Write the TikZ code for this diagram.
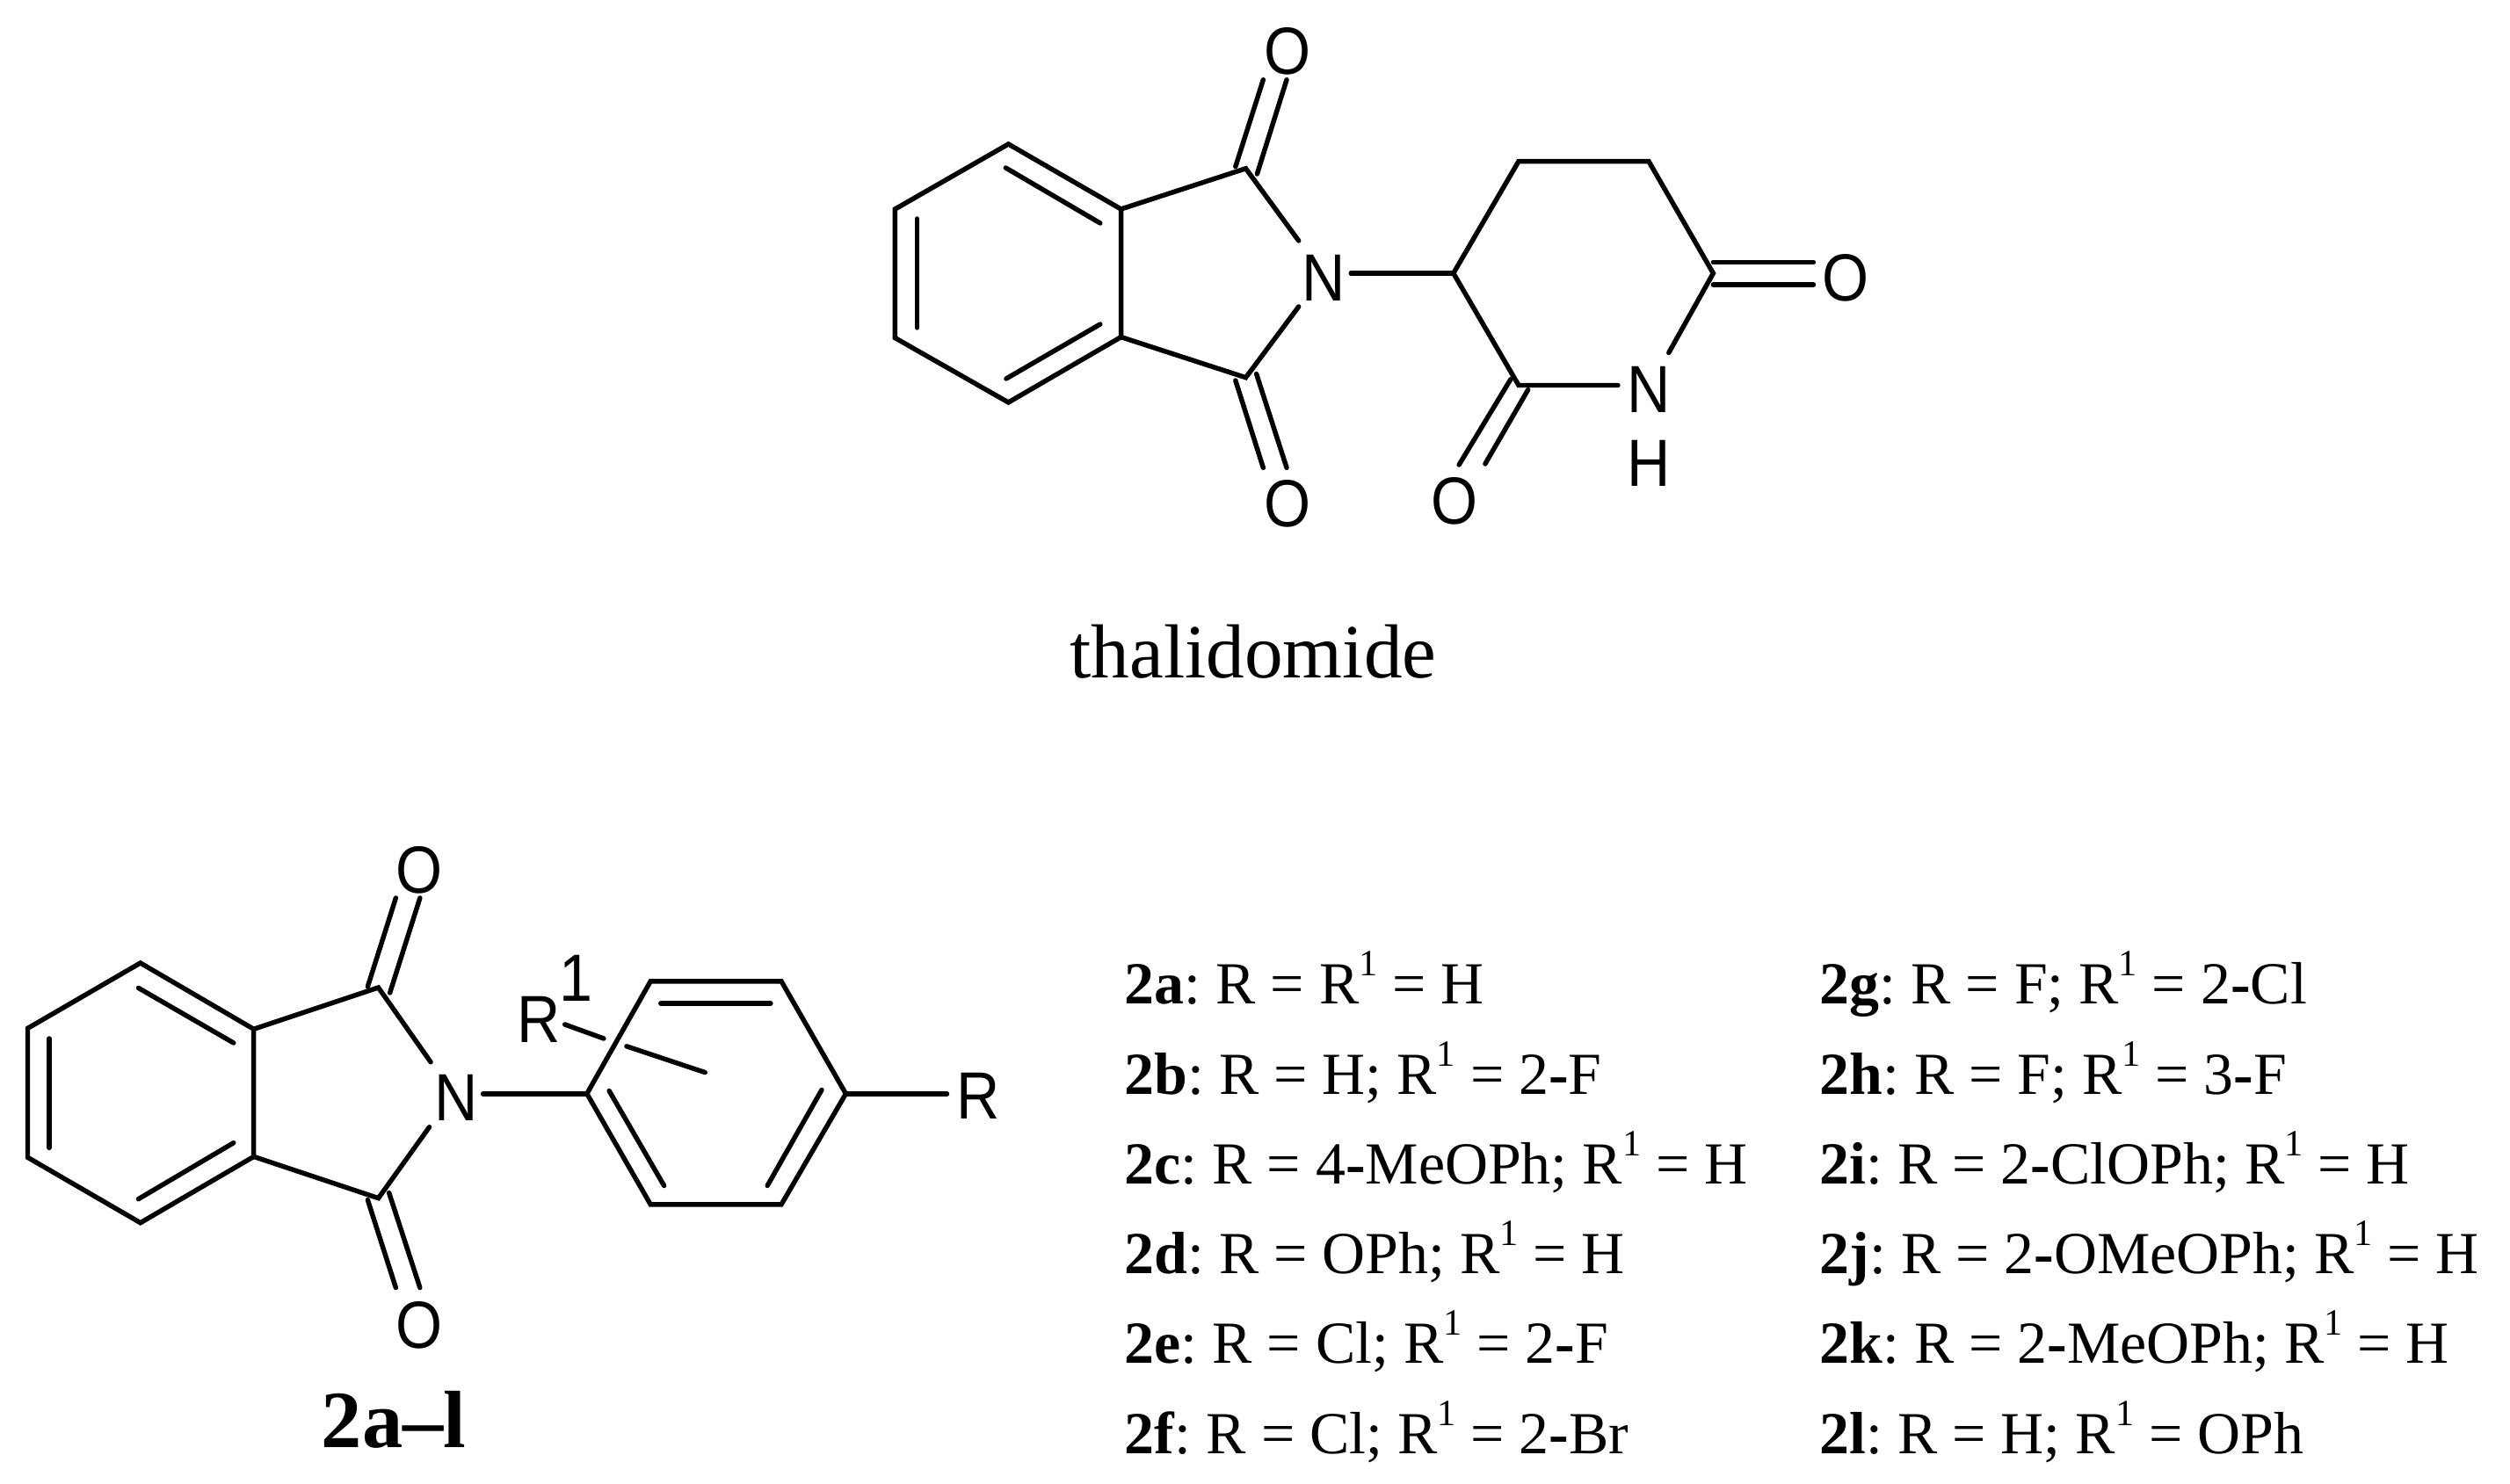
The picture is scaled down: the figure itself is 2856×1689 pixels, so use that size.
\documentclass[tikz,border=0pt]{standalone}
\usepackage{graphicx}
\usepackage{fontspec}
\setmainfont{Liberation Serif}
\newfontfamily\atomfont{Liberation Sans}
\newdimen\myunit
\myunit=0.2845pt
\newcommand{\supone}{\raisebox{32\myunit}{\fontsize{12pt}{12pt}\selectfont 1}}
\newcommand{\hy}{\textbf{-}}
\newcommand{\ck}{\kern-5.5\myunit}
\newcommand{\atm}[1]{\scalebox{.97}[1.08]{#1}}
\tikzset{
  bond/.style={line width=1.55pt,line cap=round,line join=miter,black},
  atom/.style={inner sep=0pt,xshift=0.8pt,font=\atomfont\fontsize{20pt}{20pt}\selectfont,text=black},
  entry/.style={inner sep=0pt,anchor=base west,font=\fontsize{19.3pt}{22pt}\selectfont,text=black},
  caption/.style={inner sep=0pt,anchor=base,text=black},
}
\begin{document}
\begin{tikzpicture}[x=0.01cm,y=-0.01cm]
\useasboundingbox (0,0) rectangle (2856,1689);
% ---------- thalidomide ----------
\begin{scope}[shift={(1018.5,0)},xscale=0.992,shift={(-1018.5,0)}]
\coordinate (a1) at (1148.5,164);
\coordinate (a2) at (1277.7,238);
\coordinate (a3) at (1277.7,383.6);
\coordinate (a4) at (1148.5,458);
\coordinate (a5) at (1018.5,384.6);
\coordinate (a6) at (1018.5,238);
\coordinate (a7) at (1420.8,191.8);
\coordinate (a8) at (1420.8,429.7);
\coordinate (i1) at (1145.4,191);
\coordinate (i2) at (1253.8,254);
\coordinate (i3) at (1043.8,249);
\coordinate (i4) at (1043.8,373);
\coordinate (i5) at (1253.8,369);
\coordinate (i6) at (1146,431);
\node[atom] (N1) at (1507.7,316) {\atm{N}};
\coordinate (n1a) at (1481.5,274);
\coordinate (n1b) at (1481.5,349);
\coordinate (n1c) at (1541.5,311);
\coordinate (p1) at (1659,311);
\coordinate (p2) at (1733.8,183.6);
\coordinate (p3) at (1883,183.6);
\coordinate (p4) at (1957,311);
\coordinate (p6) at (1733.8,438.5);
\node[atom] (N2) at (1880,443.6) {\atm{N}};
\node[atom] (H1) at (1880,527) {\atm{H}};
\coordinate (n2a) at (1906,401.5);
\coordinate (n2b) at (1847.7,438.5);
\node[atom] (O1) at (1465.4,58.5) {\atm{O}};
\node[atom] (O2) at (1465.4,573) {\atm{O}};
\node[atom] (O3) at (2106,316) {\atm{O}};
\node[atom] (O4) at (1657,570) {\atm{O}};
\coordinate (o1a) at (1409,189.7);
\coordinate (o1b) at (1440.8,90.8);
\coordinate (o1c) at (1433.8,198);
\coordinate (o1d) at (1467.7,90.8);
\coordinate (o2a) at (1409,433);
\coordinate (o2b) at (1440.8,532.3);
\coordinate (o2c) at (1433,425.6);
\coordinate (o2d) at (1467.7,532.3);
\coordinate (o3a) at (1957,298.5);
\coordinate (o3b) at (2072,298.5);
\coordinate (o3c) at (1957,324);
\coordinate (o3d) at (2072,324);
\coordinate (o4a) at (1724.6,431.8);
\coordinate (o4b) at (1665.4,529);
\coordinate (o4c) at (1744.6,443.6);
\coordinate (o4d) at (1695.4,528);
\draw[bond] (a1)--(a2)--(a3)--(a4)--(a5)--(a6)--cycle;
\draw[bond] (a2)--(a7)--(n1a);
\draw[bond] (a3)--(a8)--(n1b);
\draw[bond] (i1)--(i2);
\draw[bond] (i3)--(i4);
\draw[bond] (i5)--(i6);
\draw[bond] (n1c)--(p1);
\draw[bond] (n2b)--(p6)--(p1)--(p2)--(p3)--(p4)--(n2a);
\draw[bond] (o1a)--(o1b);
\draw[bond] (o1c)--(o1d);
\draw[bond] (o2a)--(o2b);
\draw[bond] (o2c)--(o2d);
\draw[bond] (o3a)--(o3b);
\draw[bond] (o3c)--(o3d);
\draw[bond] (o4a)--(o4b);
\draw[bond] (o4c)--(o4d);
\end{scope}
\node[caption,font=\fontsize{24.8pt}{28pt}\selectfont] (cap1) at (1426,771.8) {thalidomide};
% ---------- 2a-l ----------
\begin{scope}[shift={(31.5,0)},xscale=0.992,shift={(-31.5,0)}]
\coordinate (b1) at (160.8,1096);
\coordinate (b2) at (290.8,1171.3);
\coordinate (b3) at (290.8,1316.4);
\coordinate (b4) at (160.8,1391.7);
\coordinate (b5) at (31.5,1317.3);
\coordinate (b6) at (31.5,1170.4);
\coordinate (b7) at (433.8,1124);
\coordinate (b8) at (433.8,1363.7);
\coordinate (j1) at (158.5,1124.4);
\coordinate (j2) at (267.7,1187);
\coordinate (j3) at (56.2,1182);
\coordinate (j4) at (56.2,1306.4);
\coordinate (j5) at (267.7,1300.7);
\coordinate (j6) at (158.5,1364.7);
\node[atom] (N3) at (520,1249.5) {\atm{N}};
\coordinate (n3a) at (493.8,1208.8);
\coordinate (n3b) at (492.3,1282.7);
\coordinate (n3c) at (553.8,1244.8);
\coordinate (r1) at (673,1244.8);
\coordinate (r2) at (746,1116.8);
\coordinate (r3) at (896,1116.8);
\coordinate (r4) at (970,1244.8);
\coordinate (r5) at (896,1370.9);
\coordinate (r6) at (746,1370.9);
\coordinate (k1) at (757.7,1142);
\coordinate (k2) at (883.8,1142);
\coordinate (k3) at (698.5,1241.5);
\coordinate (k4) at (761.5,1349.5);
\coordinate (k5) at (942.3,1240.5);
\coordinate (k6) at (880,1349.5);
\coordinate (s1) at (647.7,1166);
\coordinate (s2) at (692.3,1182);
\coordinate (s3) at (718.5,1190.8);
\coordinate (s4) at (808.5,1220.6);
\coordinate (t1) at (1086,1244.8);
\node[atom] (R1) at (615,1160) {\atm{R}};
\node[atom] (R1s) at (657.7,1113) {\atm{1}};
\node[atom] (R2) at (1119,1247) {\atm{R}};
\node[atom] (O5) at (477.7,990) {\atm{O}};
\node[atom] (O6) at (477.7,1508) {\atm{O}};
\coordinate (o5a) at (421.5,1123);
\coordinate (o5b) at (453.8,1022);
\coordinate (o5c) at (447,1130);
\coordinate (o5d) at (481.5,1022);
\coordinate (o6a) at (421.5,1365.6);
\coordinate (o6b) at (453.8,1465.6);
\coordinate (o6c) at (446,1357.6);
\coordinate (o6d) at (481.5,1465.6);
\draw[bond] (b1)--(b2)--(b3)--(b4)--(b5)--(b6)--cycle;
\draw[bond] (b2)--(b7)--(n3a);
\draw[bond] (b3)--(b8)--(n3b);
\draw[bond] (j1)--(j2);
\draw[bond] (j3)--(j4);
\draw[bond] (j5)--(j6);
\draw[bond] (n3c)--(r1);
\draw[bond] (r1)--(r2)--(r3)--(r4)--(r5)--(r6)--cycle;
\draw[bond] (k1)--(k2);
\draw[bond] (k3)--(k4);
\draw[bond] (k5)--(k6);
\draw[bond] (s1)--(s2);
\draw[bond] (s3)--(s4);
\draw[bond] (r4)--(t1);
\draw[bond] (o5a)--(o5b);
\draw[bond] (o5c)--(o5d);
\draw[bond] (o6a)--(o6b);
\draw[bond] (o6c)--(o6d);
\end{scope}
\node[caption,font=\bfseries\fontsize{26.3pt}{28pt}\selectfont] (cap2) at (448,1648) {2a--l};
% ---------- table ----------
\node[entry] (e1) at (1279,1142.7) {\textbf{2a}:\ck{} R = R\supone{} = H};
\node[entry] (e2) at (1279,1245.5) {\textbf{2b}:\ck{} R = H; R\supone{} = 2\hy F};
\node[entry] (e3) at (1279,1347.5) {\textbf{2c}:\ck{} R = 4\hy MeOPh; R\supone{} = H};
\node[entry] (e4) at (1279,1450) {\textbf{2d}:\ck{} R = OPh; R\supone{} = H};
\node[entry] (e5) at (1279,1552) {\textbf{2e}:\ck{} R = Cl; R\supone{} = 2\hy F};
\node[entry] (e6) at (1279,1654.8) {\textbf{2f}:\ck{} R = Cl; R\supone{} = 2\hy Br};
\node[entry] (e7) at (2070,1142.7) {\textbf{2g}:\ck{} R = F; R\supone{} = 2\hy Cl};
\node[entry] (e8) at (2070,1245.5) {\textbf{2h}:\ck{} R = F; R\supone{} = 3\hy F};
\node[entry] (e9) at (2070,1347.5) {\textbf{2i}:\ck{} R = 2\hy ClOPh; R\supone{} = H};
\node[entry] (e10) at (2070,1450) {\textbf{2j}:\ck{} R = 2\hy OMeOPh; R\supone{} = H};
\node[entry] (e11) at (2070,1552) {\textbf{2k}:\ck{} R = 2\hy MeOPh; R\supone{} = H};
\node[entry] (e12) at (2070,1654.8) {\textbf{2l}:\ck{} R = H; R\supone{} = OPh};
\end{tikzpicture}
\end{document}
